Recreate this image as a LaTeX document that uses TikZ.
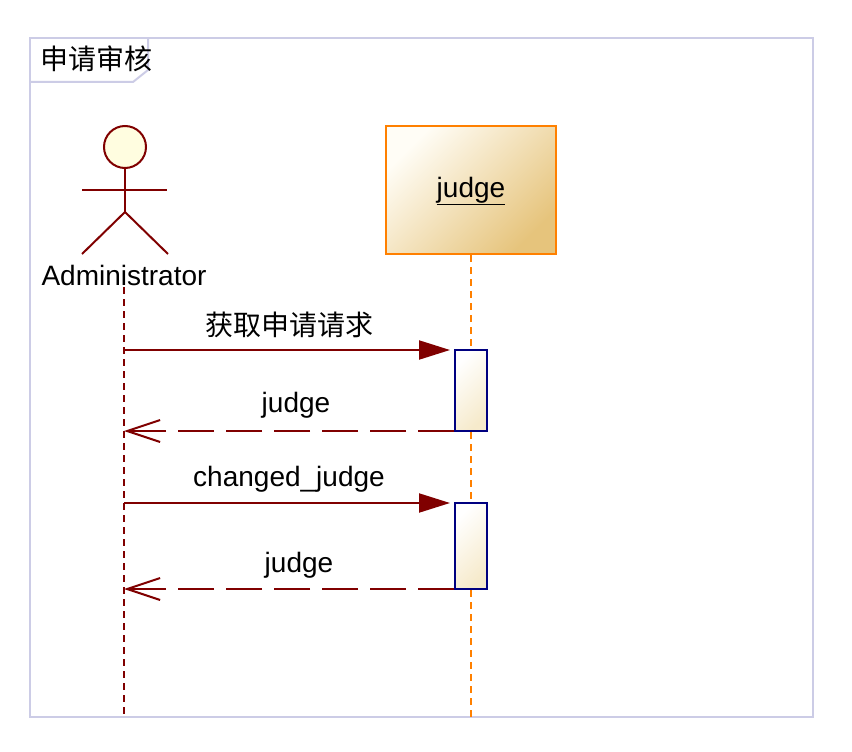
\documentclass[tikz,border=0pt]{standalone}
\usepackage{fontspec}
\setmainfont{Liberation Sans}
\newfontfamily\cjk{Noto Sans CJK SC}
\usetikzlibrary{arrows.meta}
\definecolor{dred}{HTML}{800000}
\definecolor{frame}{HTML}{CCCCE6}
\definecolor{orng}{HTML}{FF8000}
\definecolor{navy}{HTML}{000080}
\definecolor{tanc}{HTML}{E6C47C}
\definecolor{cream}{HTML}{FFFDF6}
\definecolor{actc}{HTML}{F6EACB}
\tikzset{
  lbl/.style={font=\fontsize{28}{31}\selectfont, inner sep=0pt},
  frameline/.style={draw=frame, line width=2pt},
  actorline/.style={draw=dred, line width=2pt},
  lifeA/.style={draw=dred, line width=2pt, dash pattern=on 7pt off 5pt},
  lifeB/.style={draw=orng, line width=2pt, dash pattern=on 7pt off 5pt},
  objbox/.style={draw=orng, line width=2pt, top color=cream, bottom color=tanc, shading angle=45, minimum width=170pt, minimum height=128pt, inner sep=0pt},
  actbox/.style={draw=navy, line width=2pt, top color=white, bottom color=actc, shading angle=45, minimum width=32pt, inner sep=0pt},
  msg/.style={draw=dred, line width=2pt, shorten >=4pt, -{Triangle[length=31pt,width=19pt]}},
  ret/.style={draw=dred, line width=2pt, dash pattern=on 36pt off 12pt, -{Straight Barb[length=33pt,width=22pt,line width=2pt]}},
}
\begin{document}
\begin{tikzpicture}[x=1pt,y=-1pt]
\useasboundingbox[fill=white] (0,0) rectangle (852,752);
% frame
\draw[frameline] (30,38) rectangle (813,717);
\draw[frameline] (30,82) -- (133,82) -- (148,70) -- (148,38);
\node[lbl, anchor=west] (title) at (40,59) {\cjk 申请审核};
% actor
\draw[actorline, fill=yellow!12] (125,147) circle (21pt);
\draw[actorline] (125,168) -- (125,212);
\draw[actorline] (82,190) -- (167,190);
\draw[actorline] (125,212) -- (82,254);
\draw[actorline] (125,212) -- (168,254);
\node[lbl] (admin) at (124,275) {Administrator};
% object
\node[objbox] (judge) at (471,190) {};
\node[lbl, anchor=base] (jlbl) at (471,197) {\underline{judge}};
% activations
\node[actbox, minimum height=81pt] (a1) at (471,390.5) {};
\node[actbox, minimum height=86pt] (a2) at (471,546) {};
% lifelines
\coordinate (la0) at (124,287);
\coordinate (la1) at (124,350);
\coordinate (la2) at (124,431);
\coordinate (la3) at (124,503);
\coordinate (la4) at (124,589);
\coordinate (laE) at (124,717);
\coordinate (lbE) at (471,717);
\draw[lifeA] (la0) -- (laE);
\draw[lifeB] (judge.south) -- (a1.north);
\draw[lifeB] (a1.south) -- (a2.north);
\draw[lifeB] (a2.south) -- (lbE);
% messages
\draw[msg] (la1) -- (a1.west |- la1);
\node[lbl] (m1) at (289,325) {\cjk 获取申请请求};
\draw[ret] (a1.west |- la2) -- (la2);
\node[lbl] (m2) at (296,405) {judge};
\draw[msg] (la3) -- (a2.west |- la3);
\node[lbl] (m3) at (289,479) {changed\_judge};
\draw[ret] (a2.west |- la4) -- (la4);
\node[lbl] (m4) at (299,565) {judge};
\end{tikzpicture}
\end{document}
